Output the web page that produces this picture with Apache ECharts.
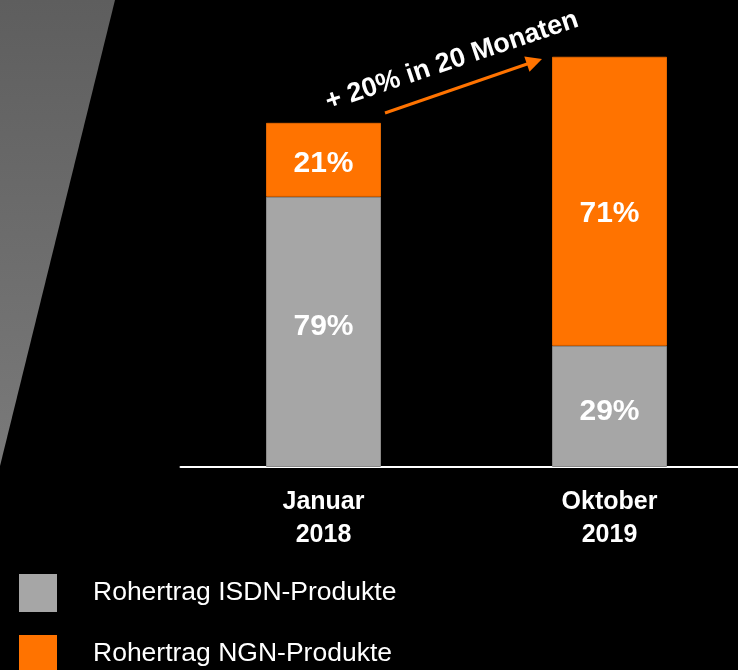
<!DOCTYPE html>
<html>
<head>
<meta charset="utf-8">
<script src="https://cdn.jsdelivr.net/npm/echarts@6/dist/echarts.min.js"></script>
<style>
  html, body { margin: 0; padding: 0; background: #000; }
  #chart { width: 738px; height: 670px; }
</style>
</head>
<body>
<div id="chart"></div>
<script>
// categories and values (bar heights, Jan 2018 total = 100)
const categories = ["Januar\n2018", "Oktober\n2019"];
const isdnValues = [78.5, 35.2];
const ngnValues = [21.5, 84.0];
// shares printed inside the bars
const isdnShares = ["79%", "29%"];
const ngnShares = ["21%", "71%"];
const seriesNames = ["Rohertrag ISDN-Produkte", "Rohertrag NGN-Produkte"];
const growthText = "+ 20% in 20 Monaten";

const FONT = "Liberation Sans, Arial, sans-serif";
const GREY = "#a6a6a6";
const ORANGE = "#ff7300";

// label nudges (px) so the percentages sit like in the slide
const isdnLabelShift = [-5, 5];
const ngnLabelShift = [4, 12];

function buildData(values, shares, shifts) {
  return values.map((v, i) => ({
    value: v,
    label: { formatter: shares[i], offset: [0, shifts[i]] },
  }));
}

const chart = echarts.init(document.getElementById("chart"));

const barLabel = {
  show: true,
  position: "inside",
  color: "#fff",
  fontFamily: FONT,
  fontWeight: "bold",
  fontSize: 30,
};

const option = {
  backgroundColor: "#000",
  animation: false,
  grid: { left: 180.5, width: 572, top: 54, bottom: 203, outerBoundsMode: "none" },
  xAxis: {
    type: "category",
    data: categories,
    axisLine: { lineStyle: { color: "#fff", width: 2 } },
    axisTick: { show: false },
    axisLabel: {
      color: "#fff",
      fontFamily: FONT,
      fontWeight: "bold",
      fontSize: 25,
      lineHeight: 33,
      margin: 19,
    },
  },
  yAxis: { type: "value", min: 0, max: 120, show: false, splitLine: { show: false } },
  legend: {
    orient: "vertical",
    left: 19,
    top: 574,
    height: 130,
    padding: 0,
    itemWidth: 38,
    itemHeight: 38,
    itemGap: 23,
    icon: "rect",
    itemStyle: { borderWidth: 0 },
    data: seriesNames,
    textStyle: {
      color: "#fff",
      fontFamily: FONT,
      fontSize: 26.5,
      padding: [0, 0, 0, 31],
    },
  },
  series: [
    {
      name: seriesNames[0],
      type: "bar",
      stack: "total",
      barWidth: 115,
      itemStyle: { color: GREY, borderColor: "#8a8a8a", borderWidth: 1 },
      label: barLabel,
      data: buildData(isdnValues, isdnShares, isdnLabelShift),
    },
    {
      name: seriesNames[1],
      type: "bar",
      stack: "total",
      barWidth: 115,
      itemStyle: { color: ORANGE, borderColor: "#e06600", borderWidth: 1 },
      label: barLabel,
      data: buildData(ngnValues, ngnShares, ngnLabelShift),
    },
  ],
  graphic: [
    // grey diagonal shape on the left
    {
      type: "polygon",
      z: 0,
      silent: true,
      shape: { points: [[0, 0], [115, 0], [0, 466]] },
      style: {
        fill: new echarts.graphic.LinearGradient(0, 0, 0, 1, [
          { offset: 0, color: "#5e5e5e" },
          { offset: 1, color: "#7a7a7a" },
        ]),
      },
    },
    // growth arrow
    {
      type: "line",
      z: 10,
      shape: { x1: 385, y1: 113, x2: 530, y2: 63 },
      style: { stroke: ORANGE, lineWidth: 3 },
    },
    {
      type: "polygon",
      z: 10,
      shape: { points: [[542, 59], [529.5, 71.8], [524.3, 56.6]] },
      style: { fill: ORANGE },
    },
    {
      type: "text",
      z: 10,
      x: 452,
      y: 61,
      rotation: 0.323,
      style: {
        text: growthText,
        fill: "#fff",
        font: "bold 27px " + FONT,
        align: "center",
        verticalAlign: "middle",
      },
    },
  ],
};

chart.setOption(option);
</script>
</body>
</html>
